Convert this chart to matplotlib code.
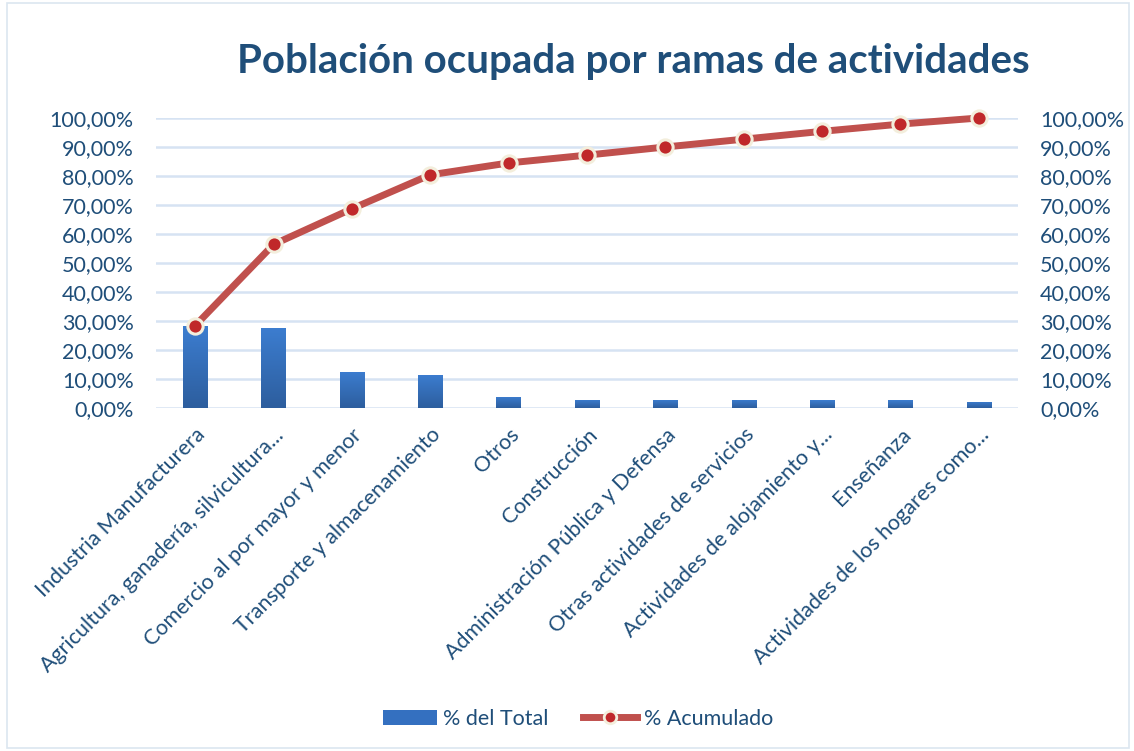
import numpy as np
import matplotlib
matplotlib.use("Agg")
import matplotlib.pyplot as plt
from matplotlib.ticker import FuncFormatter, MultipleLocator
from matplotlib.lines import Line2D
from matplotlib.patches import Patch, Rectangle

categories = [
    "Industria Manufacturera",
    "Agricultura, ganadería, silvicultura...",
    "Comercio al por mayor y menor",
    "Transporte y almacenamiento",
    "Otros",
    "Construcción",
    "Administración Pública y Defensa",
    "Otras actividades de servicios",
    "Actividades de alojamiento y...",
    "Enseñanza",
    "Actividades de los hogares como...",
]
pct_total = [28.4, 27.7, 12.5, 11.5, 3.9, 2.9, 2.9, 2.9, 2.6, 2.6, 2.2]
pct_acum = [28.4, 56.4, 68.7, 80.4, 84.5, 87.2, 90.0, 92.7, 95.4, 97.9, 100.0]

text_color = "#1F4E79"
grid_color = "#D6E3F3"
bar_top = "#3C7DD0"
bar_bottom = "#2D5E9E"
line_color = "#C0504D"

plt.rcParams.update({
    "font.family": ["Lato", "DejaVu Sans"],
    "font.size": 15.5,
})

fig = plt.figure(figsize=(11.34, 7.51), dpi=100)
fig.patches.append(Rectangle((0.006, 0.004), 0.99, 0.992, transform=fig.transFigure,
                             fill=False, edgecolor="#DCE6F0", linewidth=1.2))

ax = fig.add_axes([156 / 1134, 1 - 408 / 751, (1018 - 156) / 1134, 290 / 751])
x = np.arange(len(categories))

bars = ax.bar(x, pct_total, width=0.31, color=bar_top, zorder=2)
grad = np.linspace(0, 1, 64).reshape(-1, 1)
cmap = matplotlib.colors.LinearSegmentedColormap.from_list("b", [bar_bottom, bar_top])
for b in bars:
    bx, by = b.get_x(), b.get_y()
    im = ax.imshow(grad, cmap=cmap, origin="lower", aspect="auto",
                   extent=[bx, bx + b.get_width(), by, by + b.get_height()], zorder=2.1)
    im.set_clip_path(b)

ax.set_xlim(-0.5, len(categories) - 0.5)
ax.set_ylim(0, 100)
ax.yaxis.set_major_locator(MultipleLocator(10))
fmt = FuncFormatter(lambda v, p: "{:.2f}%".format(v).replace(".", ","))
ax.yaxis.set_major_formatter(fmt)
ax.grid(axis="y", color=grid_color, linewidth=1.8, zorder=0)
ax.set_axisbelow(True)
for s in ax.spines.values():
    s.set_visible(False)
ax.tick_params(axis="both", length=0, colors=text_color, labelsize=15.5)
ax.tick_params(axis="y", pad=16)
ax.set_xticks(x)
ax.set_xticklabels(categories, rotation=45, ha="right", rotation_mode="anchor")
ax.tick_params(axis="x", pad=12)

ax2 = ax.twinx()
ax2.set_ylim(0, 100)
ax2.yaxis.set_major_locator(MultipleLocator(10))
ax2.yaxis.set_major_formatter(fmt)
for s in ax2.spines.values():
    s.set_visible(False)
ax2.tick_params(axis="y", length=0, colors=text_color, labelsize=15.5, pad=16)
ax2.plot(x, pct_acum, color=line_color, linewidth=5, solid_capstyle="round",
         marker="o", markersize=11, markerfacecolor="#C0282A",
         markeredgecolor="#F3EEDC", markeredgewidth=2.2, zorder=3, clip_on=False)

fig.text(633 / 1134, 1 - 62 / 751, "Población ocupada por ramas de actividades",
         ha="center", va="center", fontsize=29, fontweight="bold", color=text_color)

handles = [
    Patch(facecolor="#3470C0", edgecolor="none"),
    Line2D([0], [0], color=line_color, linewidth=5, marker="o", markersize=9,
           markerfacecolor="#C0282A", markeredgecolor="#F3EEDC", markeredgewidth=2),
]
fig.legend(handles, ["% del Total", "% Acumulado"], loc="center",
           bbox_to_anchor=(578 / 1134, 1 - 719 / 751), ncol=2, frameon=False,
           fontsize=15.5, labelcolor=text_color, handlelength=2.5, columnspacing=1.6,
           handletextpad=0.3)

fig.savefig("out.png", dpi=100)
